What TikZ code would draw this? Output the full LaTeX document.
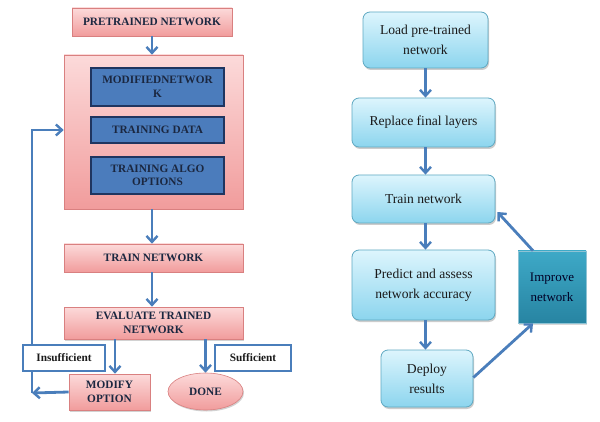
\documentclass[tikz,border=0pt]{standalone}
\usepackage{fontspec}
\setmainfont{Liberation Serif}
\usetikzlibrary{arrows.meta,shadows,shapes.geometric}
\definecolor{pinkT}{HTML}{FCDADA}
\definecolor{pinkB}{HTML}{F19C9C}
\definecolor{pinkD}{HTML}{D98080}
\definecolor{blueF}{HTML}{4B7CBC}
\definecolor{blueD}{HTML}{1F3560}
\definecolor{navy}{HTML}{1B2740}
\definecolor{arrc}{HTML}{4A7EBB}
\definecolor{cyanT}{HTML}{DDF5FD}
\definecolor{cyanB}{HTML}{8CD5EE}
\definecolor{cyanD}{HTML}{5FA9C2}
\definecolor{tealT}{HTML}{3EA9C7}
\definecolor{tealB}{HTML}{2784A2}
\definecolor{txt}{HTML}{1A1A1A}
\tikzset{
  pinkbox/.style={draw=pinkD, line width=0.6pt, top color=pinkT, bottom color=pinkB,
    drop shadow={opacity=0.35, shadow xshift=1pt, shadow yshift=-1.5pt},
    align=center, inner sep=1pt, font=\fontsize{11.3}{13.5}\selectfont\bfseries, text=navy},
  bluebox/.style={draw=blueD, line width=1.3pt, fill=blueF, align=center, inner sep=1pt,
    font=\fontsize{11.3}{13.5}\selectfont\bfseries, text=navy},
  labbox/.style={draw=arrc, line width=1.8pt, fill=white, align=center, inner sep=1pt,
    font=\fontsize{11.3}{13.5}\selectfont\bfseries, text=txt},
  cyanbox/.style={draw=cyanD, line width=0.8pt, rounded corners=7pt, top color=cyanT, bottom color=cyanB,
    drop shadow={opacity=0.4, shadow xshift=1pt, shadow yshift=-2pt},
    align=center, inner sep=1pt, font=\fontsize{13.6}{20}\selectfont, text=txt},
  tealbox/.style={draw=cyanD!70, line width=0.6pt, top color=tealT, bottom color=tealB,
    drop shadow={opacity=0.3, shadow xshift=1pt, shadow yshift=-1.5pt},
    align=center, inner sep=1pt, font=\fontsize{13}{20}\selectfont, text=black!85!blue},
  arr/.style={draw=arrc, line width=2.8pt, -{Straight Barb[length=6pt,width=11pt,line width=2.4pt]}},
  ln/.style={draw=arrc, line width=2.8pt}
}
\begin{document}
\begin{tikzpicture}[x=1pt,y=-1pt]
\useasboundingbox (0,0) rectangle (600,422);
\fill[white] (0,0) rectangle (600,422);
% ---------- left flowchart ----------
\node[pinkbox, minimum width=160pt, minimum height=28pt] (pre) at (152,22) {PRETRAINED NETWORK};
\node[pinkbox, minimum width=179pt, minimum height=154pt] (big) at (153.5,132) {};
\node[bluebox, minimum width=133pt, minimum height=38pt] (mod) at (157.5,87) {MODIFIEDNETWOR\\K};
\node[bluebox, minimum width=133pt, minimum height=26pt] (data) at (157.5,130) {TRAINING DATA};
\node[bluebox, minimum width=133pt, minimum height=37pt] (algo) at (157.5,175.5) {TRAINING ALGO\\OPTIONS};
\node[pinkbox, minimum width=179pt, minimum height=28pt] (train) at (153.5,258) {TRAIN NETWORK};
\node[pinkbox, minimum width=179pt, minimum height=32pt] (eval) at (153.5,323) {EVALUATE TRAINED\\NETWORK};
\node[pinkbox, minimum width=81pt, minimum height=36pt] (modify) at (109.5,392) {MODIFY\\OPTION};
\node[pinkbox, ellipse, minimum width=75pt, minimum height=37pt, inner sep=0pt] (done) at (205.5,391.5) {DONE};
\coordinate (fbc) at (32,393);
\coordinate (fbt) at (32,130);
\coordinate (mtop) at ([xshift=5.5pt]modify.north);
\draw[arr] (pre.south) -- (pre.south |- big.north);
\draw[arr] (big.south -| pre.south) -- (pre.south |- train.north);
\draw[arr] (train.south -| pre.south) -- (pre.south |- eval.north);
\draw[arr] (eval.south -| mtop) -- (mtop);
\draw[arr] (eval.south -| done.north) -- (done.north);
\draw[arr] (modify.west) -- (fbc);
\draw[arr] (fbc) -- (fbt) -- (fbt -| big.west);
\node[labbox, minimum width=82pt, minimum height=26pt] (insuf) at (64,358) {Insufficient};
\node[labbox, minimum width=76pt, minimum height=26pt] (suf) at (253,358) {Sufficient};
% ---------- right flowchart ----------
\node[cyanbox, minimum width=125pt, minimum height=56pt] (load) at (425.5,40) {Load pre-trained\\network};
\node[cyanbox, minimum width=143pt, minimum height=49pt] (repl) at (423.5,122.5) {Replace final layers};
\node[cyanbox, minimum width=143pt, minimum height=48pt] (rtrain) at (423.5,199) {Train network};
\node[cyanbox, minimum width=143pt, minimum height=70pt] (pred) at (423.5,285) {Predict and assess\\network accuracy};
\node[cyanbox, minimum width=92pt, minimum height=57pt] (depl) at (427,378.5) {Deploy\\results};
\node[tealbox, minimum width=68pt, minimum height=72pt] (impr) at (552,287) {Improve\\network};
\draw[arr] (load.south) -- (load.south |- repl.north);
\draw[arr] (repl.south -| load.south) -- (load.south |- rtrain.north);
\draw[arr] (rtrain.south -| load.south) -- (load.south |- pred.north);
\draw[arr] (pred.south -| load.south) -- (load.south |- depl.north);
\draw[arr] ([yshift=1pt]depl.east) -- ([xshift=-19pt]impr.south);
\draw[arr] ([xshift=-19pt]impr.north) -- ([xshift=2pt,yshift=-13pt]rtrain.east);
\end{tikzpicture}
\end{document}
